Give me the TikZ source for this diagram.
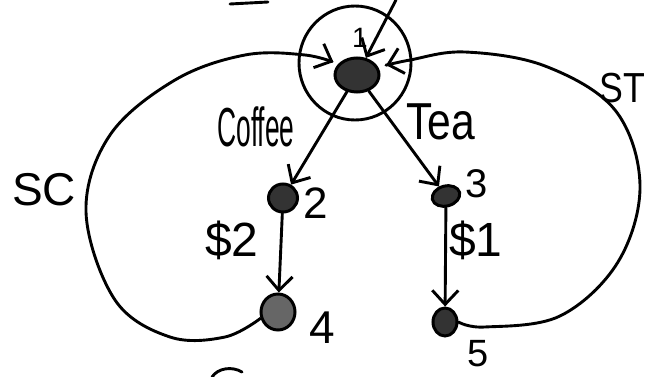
\documentclass[tikz,border=0pt]{standalone}
\usepackage{fontspec}
\setmainfont{Liberation Sans}
\usetikzlibrary{arrows.meta,shapes.geometric}
\begin{document}
\begin{tikzpicture}[x=1pt,y=-1pt,
  ln/.style={line width=2.9pt, line cap=round, line join=round},
  arr/.style={ln, -{Straight Barb[length=14pt,width=26pt,line width=2.9pt]}},
  blob/.style={ellipse, draw, line width=3pt, fill=black!80, inner sep=0pt},
  lbl/.style={inner sep=0pt}]
\useasboundingbox (0,0) rectangle (646,377);
% states
\node[ellipse, draw, ln, minimum width=112pt, minimum height=114pt] (c1) at (355,63) {};
\node[blob, minimum width=44pt, minimum height=34pt] (n1) at (357,75) {};
\node[blob, minimum width=29pt, minimum height=28pt] (n2) at (283,198) {};
\node[blob, minimum width=28pt, minimum height=20pt, rotate=15] (n3) at (446,196) {};
\node[blob, minimum width=34pt, minimum height=36pt, fill=black!60] (n4) at (278,312) {};
\node[blob, minimum width=24pt, minimum height=28pt] (n5) at (445,322) {};
% state numbers
\node[lbl, font=\fontsize{28}{30}\selectfont] (l1) at (360,38) {1};
\node[lbl, font=\fontsize{44}{46}\selectfont] (l2) at (316,203) {2};
\node[lbl, font=\fontsize{40}{42}\selectfont] (l3) at (477,184) {3};
\node[lbl, font=\fontsize{46}{48}\selectfont] (l4) at (322,328) {4};
\node[lbl, font=\fontsize{38}{40}\selectfont] (l5) at (478,354) {5};
% incoming arrow
\coordinate (tp) at (396,0);
\draw[arr] (tp) -- (n1);
% transitions
\draw[arr] (n1) -- (n2);
\draw[arr] (n1) -- (n3);
\draw[arr] (n2) -- (n4);
\draw[arr] (n3) -- (n5);
% loops back to start
\draw[arr, shorten >=5pt] plot[smooth, tension=0.6] coordinates {(n4.200) (225,337) (170,337) (115,300) (86,212) (110,135) (175,80) (245,55) (305,55) (n1.150)};
\draw[arr, shorten >=8pt] plot[smooth, tension=0.6] coordinates {(n5.east) (485,327) (560,316) (618,262) (640,185) (615,110) (545,66) (465,52) (410,60) (n1.20)};
% labels
\node[lbl, font=\fontsize{55}{57}\selectfont] (coffee) at (256,127) {\scalebox{0.48}[1]{Coffee}};
\node[lbl, font=\fontsize{52}{54}\selectfont] (tea) at (441,122) {\scalebox{0.82}[1]{Tea}};
\node[lbl, font=\fontsize{48}{50}\selectfont] (c2) at (232,240) {\$2};
\node[lbl, font=\fontsize{48}{50}\selectfont] (t1) at (476,240) {\$1};
\node[lbl, font=\fontsize{46}{48}\selectfont] (sc) at (44,190) {SC};
\node[lbl, font=\fontsize{42}{44}\selectfont] (st) at (622,88) {\scalebox{0.85}[1]{ST}};
% cut-off strokes at the edges
\draw[ln] (230,4) -- (268,2);
\draw[ln] (212,377) .. controls (218,368) and (232,366) .. (242,372);
\end{tikzpicture}
\end{document}
